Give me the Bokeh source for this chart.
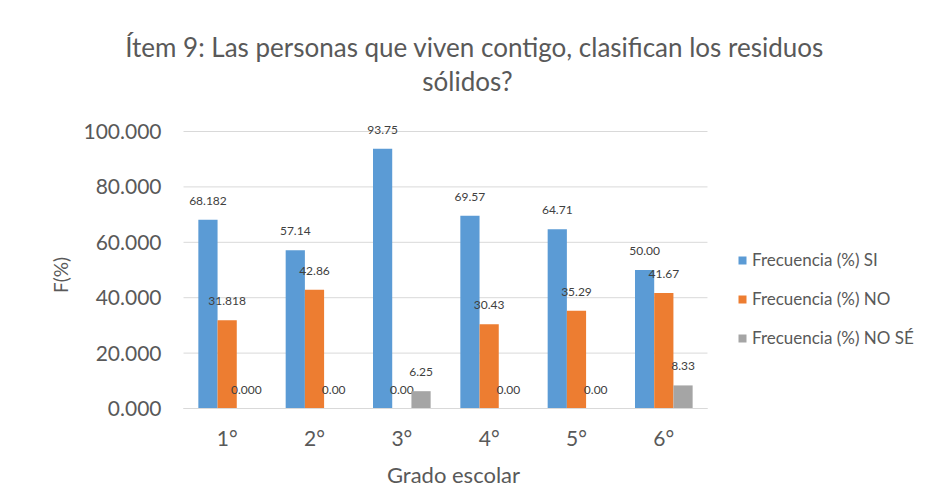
from bokeh.plotting import figure
from bokeh.models import (ColumnDataSource, Range1d, FixedTicker, NumeralTickFormatter,
                          Legend, LegendItem)
from bokeh.transform import dodge
from bokeh.core.properties import value
from bokeh.embed import file_html
from bokeh.resources import INLINE
import math

# ---- data ----
grades = ["1°", "2°", "3°", "4°", "5°", "6°"]
si = [68.182, 57.14, 93.75, 69.57, 64.71, 50.00]
no = [31.818, 42.86, 0.00, 30.43, 35.29, 41.67]
nose = [0.000, 0.00, 6.25, 0.00, 0.00, 8.33]
label_decimals = [3, 2, 2, 2, 2, 2]
series_names = ["Frecuencia (%) SI", "Frecuencia (%) NO", "Frecuencia (%) NO SÉ"]
y_ticks = [0, 20, 40, 60, 80, 100]
title_lines = ["Ítem 9: Las personas que viven contigo, clasifican los residuos", "sólidos?"]
x_title = "Grado escolar"
y_title = "F(%)"

# ---- layout / style ----
W, H = 920, 490
PLOT_LEFT, PLOT_BOTTOM = 183, 408      # pixel position of category 0 edge / value 0
PX_PER_CAT, PX_PER_UNIT = 87.33, 2.77
colors = ["#5B9BD5", "#ED7D31", "#A5A5A5"]
FONT = "Lato"
TXT = "#595959"

n = len(grades)
xs = [i + 0.5 for i in range(n)]       # category centres on the numeric x scale
x_mid = n / 2
y_mid = (y_ticks[0] + y_ticks[-1]) / 2

def fmt(vals):
    return [f"{v:.{d}f}" for v, d in zip(vals, label_decimals)]

src = ColumnDataSource(dict(
    x=xs, grade=grades, si=si, no=no, nose=nose,
    si_lbl=fmt(si), no_lbl=fmt(no), nose_lbl=fmt(nose),
))

p = figure(width=W, height=H,
           x_range=Range1d(-PLOT_LEFT / PX_PER_CAT, (W - PLOT_LEFT) / PX_PER_CAT),
           y_range=Range1d(-(H - PLOT_BOTTOM) / PX_PER_UNIT, PLOT_BOTTOM / PX_PER_UNIT),
           output_backend="svg", toolbar_location=None,
           min_border_left=0, min_border_right=0, min_border_top=0, min_border_bottom=0,
           outline_line_color=None)
p.xgrid.visible = False
p.ygrid.visible = False

# gridlines across the category area only
p.segment(x0=[0] * len(y_ticks), x1=[n] * len(y_ticks), y0=y_ticks, y1=y_ticks,
          line_color="#D9D9D9", line_width=1)

bw = 0.22
offsets = [-bw, 0.0, bw]
fields = ["si", "no", "nose"]
renderers = []
for f, off, c in zip(fields, offsets, colors):
    r = p.vbar(x=dodge("x", off), top=f, width=bw, source=src,
               fill_color=c, line_color=None)
    renderers.append(r)
    p.text(x=dodge("x", off), y=f, text=f + "_lbl", source=src,
           text_font=value(FONT), text_font_size="12px", text_color="#404040",
           text_align="center", text_baseline="middle", y_offset=-19)

# y axis drawn at the left edge of the category area
p.yaxis.fixed_location = 0
p.yaxis.ticker = FixedTicker(ticks=y_ticks)
p.yaxis.bounds = (y_ticks[0], y_ticks[-1])
p.yaxis.formatter = NumeralTickFormatter(format="0.000")
p.yaxis.axis_line_color = None
p.yaxis.major_tick_line_color = None
p.yaxis.minor_tick_line_color = None
p.yaxis.major_tick_out = 0
p.yaxis.major_label_text_font = FONT
p.yaxis.major_label_text_font_size = "21px"
p.yaxis.major_label_text_color = TXT
p.yaxis.major_label_standoff = 22

# x axis drawn at value 0
p.xaxis.fixed_location = 0
p.xaxis.ticker = FixedTicker(ticks=xs)
p.xaxis.major_label_overrides = {x: g for x, g in zip(xs, grades)}
p.xaxis.bounds = (0, n)
p.xaxis.axis_line_color = "#D9D9D9"
p.xaxis.axis_line_width = 1
p.xaxis.major_tick_line_color = None
p.xaxis.minor_tick_line_color = None
p.xaxis.major_tick_out = 0
p.xaxis.major_label_text_font = FONT
p.xaxis.major_label_text_font_size = "21px"
p.xaxis.major_label_text_color = TXT
p.xaxis.major_label_standoff = 16

# axis titles
p.text(x=[x_mid], y=[y_ticks[0]], text=[x_title], x_offset=8, y_offset=66,
       text_font=value(FONT), text_font_size="22px", text_color=TXT,
       text_align="center", text_baseline="middle")
p.text(x=[0], y=[y_mid], text=[y_title], x_offset=-123, y_offset=5, angle=math.pi / 2,
       text_font=value(FONT), text_font_size="19px", text_color=TXT,
       text_align="center", text_baseline="middle")

# chart title (two lines)
p.text(x=[x_mid, x_mid], y=[y_ticks[-1], y_ticks[-1]], text=title_lines,
       x_offset=[29, 22], y_offset=[-85, -51],
       text_font=value(FONT), text_font_size="26px", text_color=TXT,
       text_align="center", text_baseline="alphabetic")

legend = Legend(items=[LegendItem(label=s, renderers=[r]) for s, r in zip(series_names, renderers)],
                location=(737, 142), padding=0, margin=0, spacing=18,
                glyph_width=10, glyph_height=10, label_height=20, label_standoff=5,
                label_text_font=FONT, label_text_font_size="17px", label_text_color=TXT,
                border_line_color=None, background_fill_alpha=0)
p.add_layout(legend, "center")

open("out.html", "w").write(file_html(p, INLINE))
